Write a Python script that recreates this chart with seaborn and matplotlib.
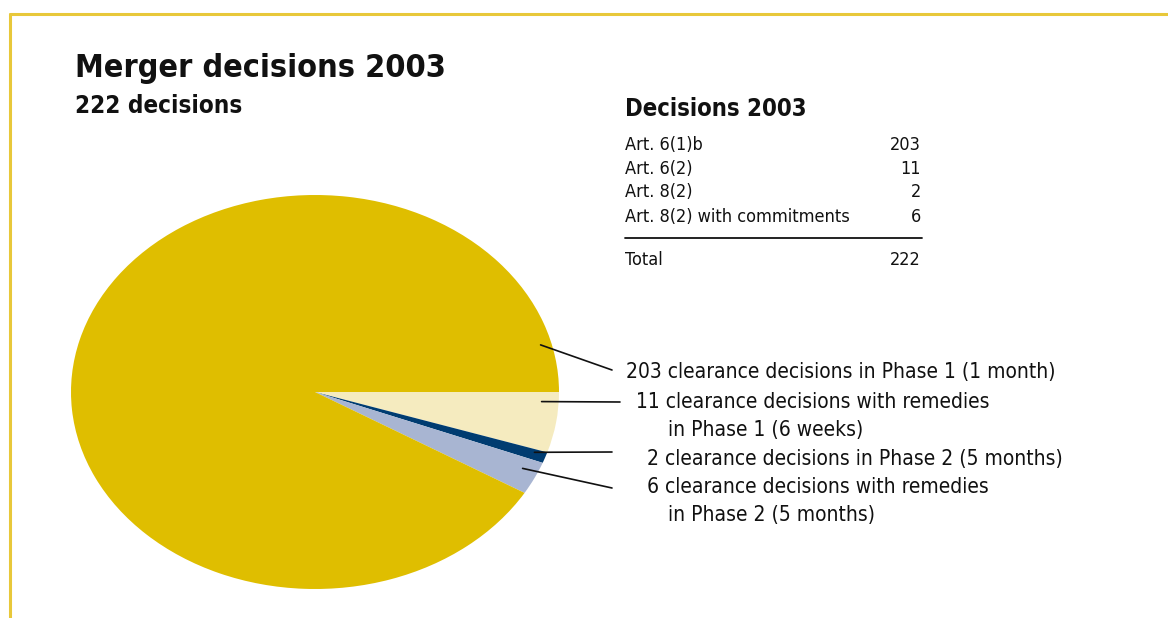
import numpy as np
import matplotlib
matplotlib.use("Agg")
import matplotlib.pyplot as plt
import seaborn as sns
from matplotlib.lines import Line2D

# ---- data ----
slice_values = [11, 2, 6, 203]
slice_labels = [
    "11 clearance decisions with remedies\nin Phase 1 (6 weeks)",
    "2 clearance decisions in Phase 2 (5 months)",
    "6 clearance decisions with remedies\nin Phase 2 (5 months)",
    "203 clearance decisions in Phase 1 (1 month)",
]
table_rows = ["Art. 6(1)b", "Art. 6(2)", "Art. 8(2)", "Art. 8(2) with commitments"]
table_vals = [203, 11, 2, 6]
total_label = "Total"
total_val = 222
title = "Merger decisions 2003"
subtitle = "222 decisions"
table_title = "Decisions 2003"

sns.set_theme(style="white")
plt.rcParams["font.family"] = ["DejaVu Sans"]
plt.rcParams["font.stretch"] = "condensed"

colors = ["#F5EBBF", "#003C71", "#A8B5D2", "#DFBE00"]
ink = "#111111"

W, H = 1168, 618
fig = plt.figure(figsize=(W / 100, H / 100), dpi=100)
fig.patch.set_facecolor("white")

# pie axes (elliptical pie)
cx, cy, rx, ry = 315, 392, 244, 197
ax = fig.add_axes([(cx - rx) / W, (H - cy - ry) / H, 2 * rx / W, 2 * ry / H])
wedges, _ = ax.pie(slice_values, colors=colors, startangle=0, counterclock=False,
                   radius=1.0, wedgeprops=dict(linewidth=0))
ax.set_aspect("auto")
ax.set_xlim(-1, 1)
ax.set_ylim(-1, 1)
ax.axis("off")

# annotation anchors (angle deg, radius) and text line ends (fig px)
anchors = [(-3, 0.93), (-18.8, 0.95), (-24.5, 0.935), (14.5, 0.955)]
line_ends = [(620, 402), (612, 452), (612, 488), (612, 370)]
text_pos = [(636, 402), (647, 459), (647, 487), (626, 372)]
second_x = 668
line_gap = 28

for (ang, r), (lx, ly), (tx, ty), lab in zip(anchors, line_ends, text_pos, slice_labels):
    a = np.deg2rad(ang)
    px, py = r * np.cos(a), r * np.sin(a)
    ax.annotate("", xy=(px, py), xycoords="data",
                xytext=(lx / W, 1 - ly / H), textcoords="figure fraction",
                arrowprops=dict(arrowstyle="-", color=ink, lw=1.2,
                                shrinkA=0, shrinkB=0))
    parts = lab.split("\n")
    fig.text(tx / W, 1 - ty / H, parts[0], fontsize=15, color=ink, va="center", ha="left")
    if len(parts) > 1:
        fig.text(second_x / W, 1 - (ty + line_gap) / H, parts[1], fontsize=15, color=ink,
                 va="center", ha="left")

# border lines
border = "#E8C83A"
fig.add_artist(Line2D([10 / W, 1], [1 - 14 / H, 1 - 14 / H], color=border, lw=2.2,
                      transform=fig.transFigure))
fig.add_artist(Line2D([10 / W, 10 / W], [0, 1 - 14 / H], color=border, lw=2.2,
                      transform=fig.transFigure))

# titles
fig.text(75 / W, 1 - 68 / H, title, fontsize=23.2, fontweight="bold", color=ink,
         va="center", ha="left")
fig.text(75 / W, 1 - 106 / H, subtitle, fontsize=17.4, fontweight="bold", color=ink,
         va="center", ha="left")

# table
fig.text(625 / W, 1 - 109 / H, table_title, fontsize=17.1, fontweight="bold", color=ink,
         va="center", ha="left")
row_y = [145, 169, 192, 217]
for name, val, y in zip(table_rows, table_vals, row_y):
    fig.text(625 / W, 1 - y / H, name, fontsize=13, color=ink, va="center", ha="left")
    fig.text(921 / W, 1 - y / H, str(val), fontsize=13, color=ink, va="center", ha="right")
fig.add_artist(Line2D([625 / W, 922 / W], [1 - 238 / H, 1 - 238 / H], color=ink, lw=1.3,
                      transform=fig.transFigure))
fig.text(625 / W, 1 - 260 / H, total_label, fontsize=13, color=ink, va="center", ha="left")
fig.text(921 / W, 1 - 260 / H, str(total_val), fontsize=13, color=ink, va="center", ha="right")

fig.savefig("out.png", dpi=100, facecolor="white")
